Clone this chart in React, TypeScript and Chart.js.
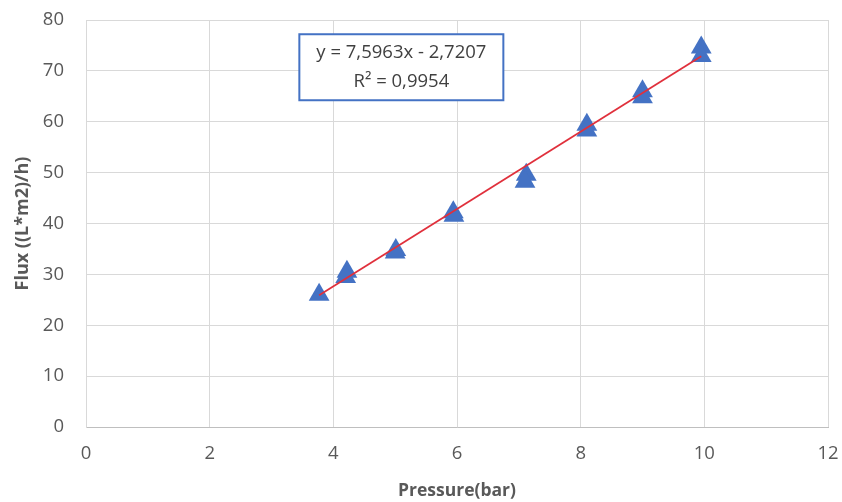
import React, { useEffect, useRef } from "react";
import { Chart, registerables } from "chart.js";

Chart.register(...registerables);

const pressure = [3.77, 4.22, 4.2, 5.01, 5.0, 5.94, 5.95, 7.12, 7.1, 8.1, 8.1, 9.0, 9.0, 9.95, 9.95];
const flux = [26.0, 30.5, 29.5, 34.8, 34.3, 42.2, 41.5, 49.6, 48.2, 59.4, 58.3, 66.0, 64.8, 74.6, 72.9];
const slope = 7.5963;
const intercept = -2.7207;
const trendX = [3.77, 9.95];
const equationLines = ["y = 7,5963x - 2,7207", "R² = 0,9954"];
const FONT = "'Open Sans', sans-serif";

const annotationPlugin = {
  id: "eqBox",
  afterDatasetsDraw(chart: any) {
    const ctx = chart.ctx;
    const xs = chart.scales.x;
    const ys = chart.scales.y;
    const cx = xs.getPixelForValue(5.1);
    const top = ys.getPixelForValue(77.2);
    const w = 204;
    const h = 66;
    ctx.save();
    ctx.fillStyle = "#ffffff";
    ctx.fillRect(cx - w / 2, top, w, h);
    ctx.strokeStyle = "#4472C4";
    ctx.lineWidth = 2;
    ctx.strokeRect(cx - w / 2, top, w, h);
    ctx.fillStyle = "#404040";
    ctx.font = `18.5px ${FONT}`;
    ctx.textAlign = "center";
    ctx.textBaseline = "middle";
    ctx.fillText(equationLines[0], cx, top + 18);
    ctx.fillText(equationLines[1], cx, top + 47);
    ctx.restore();
  },
};

export default function App() {
  const ref = useRef<HTMLCanvasElement>(null);
  useEffect(() => {
    if (!ref.current) return;
    const chart = new Chart(ref.current, {
      type: "scatter",
      data: {
        datasets: [
          {
            label: "Trend",
            type: "line",
            data: trendX.map((x) => ({ x, y: slope * x + intercept })),
            borderColor: "#E0303C",
            borderWidth: 1.8,
            pointRadius: 0,
            fill: false,
          } as any,
          {
            label: "Flux",
            data: pressure.map((x, i) => ({ x, y: flux[i] })),
            pointStyle: "triangle",
            pointRadius: 12,
            backgroundColor: "#4472C4",
            borderColor: "#4472C4",
            borderWidth: 0,
          },
        ],
      },
      options: {
        animation: false,
        responsive: true,
        maintainAspectRatio: false,
        layout: { padding: { top: 20, right: 14, left: 0, bottom: 0 } },
        plugins: { legend: { display: false }, tooltip: { enabled: false } },
        scales: {
          x: {
            type: "linear",
            min: 0,
            max: 12,
            afterFit: (s: any) => {
              s.height = 75;
              s.paddingRight = 0;
              s.paddingLeft = 0;
            },
            ticks: { stepSize: 2, color: "#595959", font: { family: FONT, size: 18.5 }, padding: 16 },
            grid: { color: "#D9D9D9", drawTicks: false },
            border: { color: "#BFBFBF" },
            title: {
              display: true,
              text: "Pressure(bar)",
              color: "#595959",
              font: { family: FONT, size: 17.5, weight: "bold" },
              padding: { top: 0, bottom: 0 },
            },
          },
          y: {
            min: 0,
            max: 80,
            afterFit: (s: any) => {
              s.width = 86;
              s.paddingTop = 0;
              s.paddingBottom = 0;
            },
            ticks: { stepSize: 10, color: "#595959", font: { family: FONT, size: 18.5 }, padding: 22 },
            grid: { color: "#D9D9D9", drawTicks: false },
            border: { color: "#D9D9D9" },
            title: {
              display: true,
              text: "Flux ((L*m2)/h)",
              color: "#595959",
              font: { family: FONT, size: 18, weight: "bold" },
              padding: { top: 12, bottom: 0 },
            },
          },
        },
      },
      plugins: [annotationPlugin],
    });
    return () => chart.destroy();
  }, []);
  return (
    <div style={{ position: "fixed", left: 0, top: 0, width: 842, height: 502, background: "#fff" }}>
      <canvas ref={ref} />
    </div>
  );
}
